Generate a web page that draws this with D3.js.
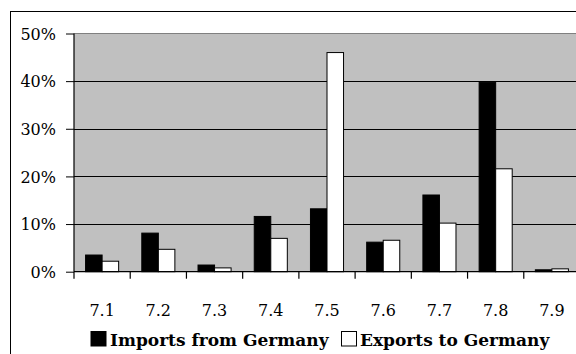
<!DOCTYPE html>
<html>
<head>
<meta charset="utf-8">
<script src="https://cdn.jsdelivr.net/npm/d3@7"></script>
<style>
  html, body { margin: 0; padding: 0; background: #fff; }
  svg { display: block; }
  text { font-family: "DejaVu Serif", "Liberation Serif", serif; fill: #000; }
</style>
</head>
<body>
<svg id="chart" width="576" height="354"></svg>
<script>
// Chapter categories and the share of trade with Germany in each
const categories = ["7.1", "7.2", "7.3", "7.4", "7.5", "7.6", "7.7", "7.8", "7.9"];
const importsFromGermany = [0.035, 0.081, 0.014, 0.116, 0.132, 0.062, 0.161, 0.397, 0.004];
const exportsToGermany   = [0.022, 0.047, 0.008, 0.070, 0.460, 0.066, 0.102, 0.216, 0.006];
const seriesNames = ["Imports from Germany", "Exports to Germany"];
const seriesColors = ["#000000", "#ffffff"];
const yTicks = [0, 0.1, 0.2, 0.3, 0.4, 0.5];

const svg = d3.select("#chart");

// outer frame (runs off the right and bottom edges)
svg.append("rect")
  .attr("x", 10.5).attr("y", 11.5)
  .attr("width", 700).attr("height", 500)
  .attr("fill", "none").attr("stroke", "#000").attr("stroke-width", 1);

const plot = { left: 74, right: 580, top: 33.5, bottom: 271.7 };

const x = d3.scaleBand().domain(categories).range([plot.left, plot.right]).padding(0);
const xs = d3.scaleBand().domain(seriesNames).range([0, x.bandwidth()])
  .paddingInner(0).paddingOuter(0.7);
const y = d3.scaleLinear().domain([0, 0.5]).range([plot.bottom, plot.top]);

// plot area background
svg.append("rect")
  .attr("x", plot.left).attr("y", plot.top)
  .attr("width", plot.right - plot.left).attr("height", plot.bottom - plot.top)
  .attr("fill", "#c0c0c0");

// top edge of plot area
svg.append("line")
  .attr("x1", plot.left).attr("x2", plot.right)
  .attr("y1", plot.top).attr("y2", plot.top)
  .attr("stroke", "#808080").attr("stroke-width", 1.2);

// gridlines
svg.append("g").selectAll("line")
  .data(yTicks.filter(d => d > 0 && d < 0.5))
  .join("line")
  .attr("x1", plot.left).attr("x2", plot.right)
  .attr("y1", d => Math.round(y(d)) + 0.5).attr("y2", d => Math.round(y(d)) + 0.5)
  .attr("stroke", "#000").attr("stroke-width", 1);

// bars
const rows = categories.map((c, i) => ({ c, vals: [importsFromGermany[i], exportsToGermany[i]] }));
const groups = svg.append("g").selectAll("g")
  .data(rows).join("g")
  .attr("transform", d => `translate(${x(d.c)},0)`);
groups.selectAll("rect")
  .data(d => d.vals.map((v, k) => ({ v, k })))
  .join("rect")
  .attr("x", d => xs(seriesNames[d.k]))
  .attr("width", xs.bandwidth())
  .attr("y", d => y(d.v))
  .attr("height", d => y(0) - y(d.v))
  .attr("fill", d => seriesColors[d.k])
  .attr("stroke", "#000").attr("stroke-width", 1);

// y axis
const yAxis = d3.axisLeft(y).tickValues(yTicks).tickFormat(d3.format(".0%"))
  .tickSize(8).tickPadding(10);
const gy = svg.append("g").attr("transform", `translate(${plot.left},0)`).call(yAxis);
gy.select(".domain").attr("stroke", "#000").attr("stroke-width", 1.2).attr("d", `M0,${plot.top}V${plot.bottom}`);
gy.selectAll(".tick line").attr("stroke", "#000");
gy.selectAll(".tick text").attr("font-size", 16).attr("font-family", "DejaVu Serif").attr("dy", "0.35em");

// x axis
const gx = svg.append("g").attr("transform", `translate(0,${plot.bottom})`);
gx.append("line")
  .attr("x1", plot.left).attr("x2", plot.right).attr("y1", 0).attr("y2", 0)
  .attr("stroke", "#000").attr("stroke-width", 1.2);
gx.selectAll("line.tk")
  .data(categories.concat(["end"]))
  .join("line").attr("class", "tk")
  .attr("x1", (d, i) => plot.left + i * x.step()).attr("x2", (d, i) => plot.left + i * x.step())
  .attr("y1", 0).attr("y2", 7)
  .attr("stroke", "#000").attr("stroke-width", 1.2);
gx.selectAll("text")
  .data(categories).join("text")
  .attr("x", d => x(d) + x.bandwidth() / 2)
  .attr("y", 44)
  .attr("text-anchor", "middle")
  .attr("font-size", 16)
  .text(d => d);

// legend
const legend = svg.append("g");
const legendItems = [
  { name: seriesNames[0], color: seriesColors[0], sx: 91, tx: 110 },
  { name: seriesNames[1], color: seriesColors[1], sx: 341.5, tx: 360 }
];
legendItems.forEach(it => {
  legend.append("rect")
    .attr("x", it.sx).attr("y", 331.5).attr("width", 15).attr("height", 14.5)
    .attr("fill", it.color).attr("stroke", "#000").attr("stroke-width", 1);
  legend.append("text")
    .attr("x", it.tx).attr("y", 346)
    .attr("font-size", 17).attr("font-weight", "bold")
    .text(it.name);
});
</script>
</body>
</html>
